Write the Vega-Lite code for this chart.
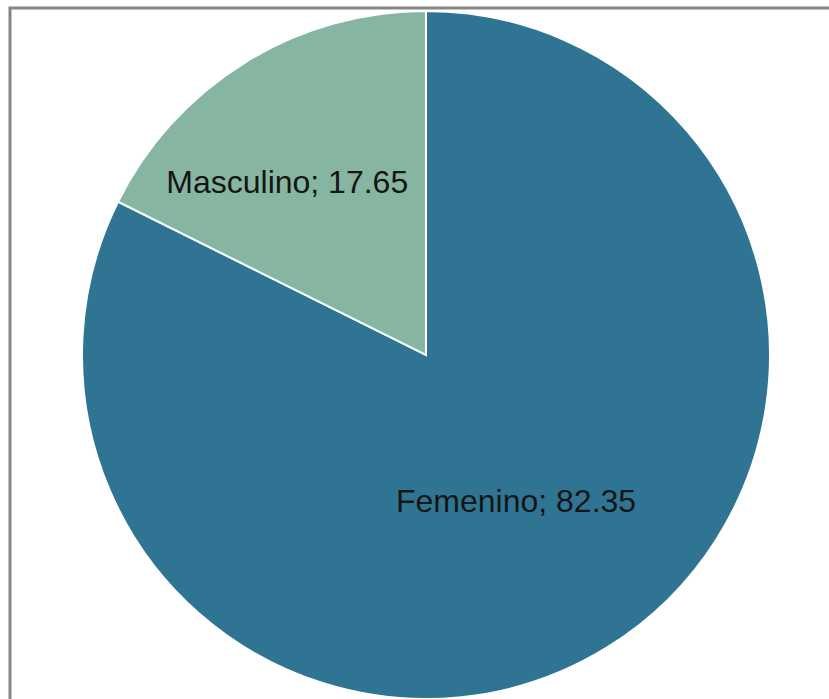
{
  "$schema": "https://vega.github.io/schema/vega-lite/v6.json",
  "autosize": {"type": "none"},
  "padding": {"left": 10, "top": 8, "right": -13, "bottom": -3},
  "width": 832,
  "height": 694,
  "background": "white",
  "view": {"stroke": "#868686", "strokeWidth": 3, "fill": "white"},
  "data": {"values": [
    {"sexo": "Femenino", "valor": 82.35, "orden": 1},
    {"sexo": "Masculino", "valor": 17.65, "orden": 2}
  ]},
  "transform": [{"calculate": "datum.sexo + '; ' + format(datum.valor, '.2f')", "as": "etiqueta"}],
  "encoding": {
    "theta": {"field": "valor", "type": "quantitative", "stack": true},
    "order": {"field": "orden", "type": "quantitative"}
  },
  "layer": [
    {
      "mark": {"type": "arc", "radius": 344, "stroke": "white", "strokeWidth": 2},
      "encoding": {
        "color": {
          "field": "sexo", "type": "nominal",
          "scale": {"domain": ["Femenino", "Masculino"], "range": ["#2f7593", "#86b6a1"]},
          "legend": null
        }
      }
    },
    {
      "mark": {"type": "text", "radius": 171, "dy": 2, "font": "Liberation Sans", "fontSize": 32, "color": "#151515", "baseline": "middle", "align": "center"},
      "encoding": {
        "text": {"field": "etiqueta", "type": "nominal"},
        "opacity": {"condition": {"test": "datum.sexo === 'Femenino'", "value": 1}, "value": 0}
      }
    },
    {
      "mark": {"type": "text", "radius": 218, "dx": -24, "dy": 13, "font": "Liberation Sans", "fontSize": 32, "color": "#151515", "baseline": "middle", "align": "center"},
      "encoding": {
        "text": {"field": "etiqueta", "type": "nominal"},
        "opacity": {"condition": {"test": "datum.sexo === 'Masculino'", "value": 1}, "value": 0}
      }
    }
  ]
}
